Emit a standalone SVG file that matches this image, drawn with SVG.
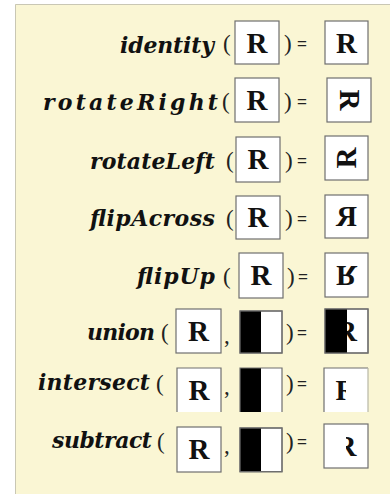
<svg xmlns="http://www.w3.org/2000/svg" xmlns:xlink="http://www.w3.org/1999/xlink" width="390" height="494" viewBox="0 0 390 494">
  <style>
    .panel { fill: #faf6d4; }
    .edge { fill: none; stroke: #c9c7b4; stroke-width: 1; }
    .fn { font-family: "DejaVu Serif", "Liberation Serif", serif; font-weight: bold; font-style: italic; font-size: 22px; fill: #111; text-anchor: end; }
    .op { font-family: "Liberation Serif", "DejaVu Serif", serif; font-size: 23px; fill: #222; }
    .eq { font-family: "Liberation Sans", "DejaVu Sans", sans-serif; font-size: 17px; fill: #222; }
    .box { fill: #fff; stroke: #6f6f6f; stroke-width: 1.2; }
    .open { fill: none; stroke: #6f6f6f; stroke-width: 1.2; }
    .R { font-family: "Liberation Serif", "DejaVu Serif", serif; font-weight: bold; font-size: 29px; fill: #111; text-anchor: middle; }
  </style>
  <defs>
    <!-- letter R centred on the origin -->
    <g id="letterR"><text class="R" x="0" y="9.5">R</text></g>
    <!-- half black / half white tile, 42 x 42, origin at top-left -->
    <g id="halfTile">
      <rect class="box" x="0" y="0" width="42" height="42"/>
      <rect x="0" y="0" width="21" height="42" fill="#000"/>
      <rect class="open" x="0" y="0" width="42" height="42"/>
    </g>
    <clipPath id="leftHalf"><rect x="324" y="368" width="22" height="44"/></clipPath>
    <clipPath id="rightHalf"><rect x="346" y="424" width="22" height="44"/></clipPath>
  </defs>

  <!-- backdrop -->
  <rect class="panel" x="15" y="4" width="375" height="490"/>
  <path class="edge" d="M15.5,494 V4.5 H390"/>

  <!-- identity -->
  <g id="row-identity">
    <text class="fn" x="214" y="53" textLength="94" lengthAdjust="spacing">identity</text>
    <text class="op" x="223" y="51">(</text>
    <rect class="box" x="235" y="21" width="44" height="43"/>
    <use xlink:href="#letterR" transform="translate(257,43)"/>
    <text class="op" x="284" y="51">)</text>
    <text class="eq" x="297" y="49">=</text>
    <rect class="box" x="325" y="21" width="43" height="43"/>
    <use xlink:href="#letterR" transform="translate(346.5,43)"/>
  </g>

  <!-- rotateRight -->
  <g id="row-rotateRight">
    <text class="fn" x="218" y="110" textLength="175" lengthAdjust="spacing">rotateRight</text>
    <text class="op" x="222" y="109">(</text>
    <rect class="box" x="235" y="78" width="44" height="44"/>
    <use xlink:href="#letterR" transform="translate(257,100)"/>
    <text class="op" x="284" y="109">)</text>
    <text class="eq" x="297" y="107">=</text>
    <rect class="box" x="327" y="78" width="44" height="44"/>
    <use xlink:href="#letterR" transform="translate(349,100) rotate(90)"/>
  </g>

  <!-- rotateLeft -->
  <g id="row-rotateLeft">
    <text class="fn" x="215" y="169" textLength="125" lengthAdjust="spacing">rotateLeft</text>
    <text class="op" x="226" y="168">(</text>
    <rect class="box" x="236" y="137" width="44" height="45"/>
    <use xlink:href="#letterR" transform="translate(258,159.5)"/>
    <text class="op" x="285" y="168">)</text>
    <text class="eq" x="297" y="166">=</text>
    <rect class="box" x="325" y="136" width="43" height="44"/>
    <use xlink:href="#letterR" transform="translate(346.5,158) rotate(-90)"/>
  </g>

  <!-- flipAcross -->
  <g id="row-flipAcross">
    <text class="fn" x="215" y="226" textLength="125" lengthAdjust="spacing">flipAcross</text>
    <text class="op" x="226" y="226">(</text>
    <rect class="box" x="236" y="196" width="44" height="43"/>
    <use xlink:href="#letterR" transform="translate(258,217.5)"/>
    <text class="op" x="285" y="226">)</text>
    <text class="eq" x="297" y="224">=</text>
    <rect class="box" x="325" y="195" width="43" height="43"/>
    <use xlink:href="#letterR" transform="translate(346.5,216.5) scale(-1,1)"/>
  </g>

  <!-- flipUp -->
  <g id="row-flipUp">
    <text class="fn" x="215" y="284" textLength="78" lengthAdjust="spacing">flipUp</text>
    <text class="op" x="223" y="284">(</text>
    <rect class="box" x="239" y="253" width="44" height="45"/>
    <use xlink:href="#letterR" transform="translate(261,275.5)"/>
    <text class="op" x="287" y="284">)</text>
    <text class="eq" x="298" y="282">=</text>
    <rect class="box" x="325" y="253" width="43" height="44"/>
    <use xlink:href="#letterR" transform="translate(346.5,275) scale(1,-1)"/>
  </g>

  <!-- union -->
  <g id="row-union">
    <text class="fn" x="155" y="340" textLength="68" lengthAdjust="spacing">union</text>
    <text class="op" x="161" y="340">(</text>
    <rect class="box" x="176" y="309" width="45" height="44"/>
    <use xlink:href="#letterR" transform="translate(198.5,331)"/>
    <text class="op" x="224" y="343">,</text>
    <use xlink:href="#halfTile" transform="translate(240,311)"/>
    <text class="op" x="286" y="340">)</text>
    <text class="eq" x="297" y="338">=</text>
    <rect class="box" x="325" y="309" width="43" height="44"/>
    <use xlink:href="#letterR" transform="translate(346.5,331)"/>
    <rect x="325" y="309" width="22" height="44" fill="#000"/>
    <rect class="open" x="325" y="309" width="43" height="44"/>
  </g>

  <!-- intersect -->
  <g id="row-intersect">
    <text class="fn" x="150" y="390" textLength="112" lengthAdjust="spacing">intersect</text>
    <text class="op" x="156" y="391">(</text>
    <rect x="177" y="368" width="44" height="44" fill="#fff"/>
    <path class="open" d="M177,412 V368 H221 V412"/>
    <use xlink:href="#letterR" transform="translate(199,390)"/>
    <text class="op" x="224" y="394">,</text>
    <rect x="240" y="368" width="42" height="44" fill="#fff"/>
    <rect x="240" y="368" width="21" height="44" fill="#000"/>
    <path class="open" d="M240,412 V368 H282 V412"/>
    <text class="op" x="286" y="391">)</text>
    <text class="eq" x="297" y="389">=</text>
    <rect x="324" y="368" width="44" height="44" fill="#fff"/>
    <path class="open" d="M324,412 V368 H368"/>
    <path d="M368,368 V412" stroke="#b8b7a6" stroke-width="1.2"/>
    <g clip-path="url(#leftHalf)">
      <use xlink:href="#letterR" transform="translate(346,390)"/>
    </g>
  </g>

  <!-- subtract -->
  <g id="row-subtract">
    <text class="fn" x="152" y="448" textLength="100" lengthAdjust="spacing">subtract</text>
    <text class="op" x="157" y="449">(</text>
    <rect class="box" x="177" y="427" width="44" height="45"/>
    <use xlink:href="#letterR" transform="translate(199,449.5)"/>
    <text class="op" x="224" y="453">,</text>
    <use xlink:href="#halfTile" transform="translate(240,428) scale(1,1.04)"/>
    <text class="op" x="286" y="449">)</text>
    <text class="eq" x="297" y="447">=</text>
    <rect class="box" x="324" y="424" width="44" height="44"/>
    <g clip-path="url(#rightHalf)">
      <use xlink:href="#letterR" transform="translate(346,446)"/>
    </g>
  </g>
</svg>
